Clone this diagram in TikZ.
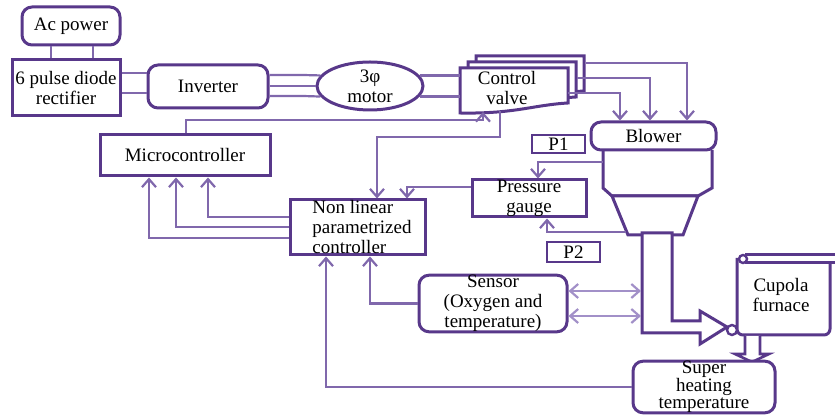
\documentclass[tikz,border=0pt]{standalone}
\usepackage{fontspec}
\setmainfont{Liberation Serif}
\usetikzlibrary{arrows.meta,shapes.geometric}
\definecolor{boxc}{RGB}{88,56,138}
\definecolor{linec}{RGB}{128,104,172}
\definecolor{lightc}{RGB}{162,144,200}
\begin{document}
\begin{tikzpicture}[x=0.5pt,y=-0.5pt,>={Straight Barb[length=4pt,width=7pt]},
	font=\fontsize{9.5}{10}\selectfont,
	box/.style={draw=boxc,line width=1.5pt,fill=white,align=center,inner sep=0pt},
	rbox/.style={box,rounded corners=5pt},
	conn/.style={draw=linec,line width=1.1pt}]
	\useasboundingbox (0,0) rectangle (835,415);
	\node[rbox,minimum width=49pt,minimum height=19pt] (ac) at (71,26) {Ac power};
	\node[box,minimum width=54pt,minimum height=28pt] (rect) at (66,88) {6 pulse diode\\rectifier};
	\node[rbox,minimum width=60pt,minimum height=21.5pt] (inv) at (208,86.5) {Inverter};
	\node[box,ellipse,minimum width=53pt,minimum height=24pt] (motor) at (370,86) {3φ\\motor};
	\foreach \d in {16,8,0}
		\draw[box] (460+\d,68-0.75*\d) -- ++(108,0) -- ++(0,35) .. controls ++(-35,2) and ++(55,1) .. ++(-108,10) -- cycle;
	\node[align=center] (valve) at (507,88) {Control\\valve};
	\coordinate (valvew) at (460,86);
	\coordinate (valvea) at (483,112);
	\coordinate (valveb) at (500,111);
	\coordinate (v3) at (586,63);
	\coordinate (v2) at (577,78);
	\coordinate (v1) at (568,93);
	% blower and furnace pipe
	\draw[box] (603,150) -- (603,188) -- (612,196) -- (698,196) -- (712,188) -- (712,150);
	\draw[box] (612,196) -- (698,196) -- (683,235) -- (628,235) -- cycle;
	\draw[box] (642,233) -- (642,333) -- (700,333) -- (700,344) -- (727,327) -- (700,311) -- (700,321) -- (672,321) -- (672,233) -- cycle;
	\node[rbox,minimum width=62.5pt,minimum height=14pt] (blower) at (653.5,136) {Blower};
	\coordinate (bodyl) at (603,162);
	\coordinate (funl) at (626,232);
	\coordinate (pipel) at (641,280);
	% cupola scroll
	\draw[box,rounded corners=3pt] (737,258) -- (737,335) -- (830,335) -- (830,263);
	\draw[box] (745,255) -- (835,255) (745,263) -- (835,263);
	\draw[box,line width=1.2pt] (743,259) circle[radius=4];
	\draw[box,line width=1.2pt] (732,330) circle[radius=5];
	\node[align=center] (cupola) at (781,295) {Cupola\\furnace};
	\draw[box,line width=1.3pt] (745,336) -- (745,354) -- (735,354) -- (752,362) -- (769,354) -- (760,354) -- (760,336);
	\node[rbox,minimum width=71pt,minimum height=25pt,font=\fontsize{9.5}{8.75}\selectfont] (sh) at (704,387) {Super\\heating\\temperature};
	\node[box,minimum width=85pt,minimum height=20.5pt] (mc) at (185,155.5) {Microcontroller};
	\node[box,minimum width=67.5pt,minimum height=27.5pt] (ctrl) at (357.5,227.5) {};
	\node[align=left,anchor=west,inner sep=0pt] (ctrltxt) at (312,227) {Non linear\\parametrized\\controller};
	\node[box,minimum width=57pt,minimum height=18.5pt] (pg) at (529,198.5) {Pressure\\gauge};
	\node[box,line width=1.2pt,minimum width=26.5pt,minimum height=9pt] (p1) at (558.5,144) {P1};
	\node[box,line width=1.2pt,minimum width=26.5pt,minimum height=10pt] (p2) at (573.5,252) {P2};
	\node[rbox,minimum width=74pt,minimum height=27.5pt] (sensor) at (493,303.5) {Sensor\\(Oxygen and\\temperature)};
	% connectors
	\draw[conn] (ac.south -| 51,0) -- (rect.north -| 51,0);
	\draw[conn] (ac.south -| 93,0) -- (rect.north -| 93,0);
	\draw[conn] (rect.east |- 0,73) -- (inv.west |- 0,73);
	\draw[conn] (rect.east |- 0,93) -- (inv.west |- 0,93);
	\draw[conn] (inv.east |- 0,75) -- (303,75) -- (motor.168);
	\draw[conn] (inv.east |- motor.west) -- (motor.west);
	\draw[conn] (inv.east |- 0,96) -- (303,96) -- (motor.192);
	\draw[conn] (motor.12) -- (motor.12 -| valvew);
	\draw[conn] (motor.-12) -- (motor.-12 -| valvew);
	\draw[conn,->] (v3) -| (blower.north -| 687,0);
	\draw[conn,->] (v2) -| (blower.north -| 650,0);
	\draw[conn,->] (v1) -| (blower.north -| 620,0);
	\draw[conn,->] (mc.north -| 186,0) -- (186,120) -| (valvea);
	\draw[conn,->] (valveb) -- (500,137) -| (ctrl.north -| 377,0);
	\draw[conn,->] (pg.west |- 0,187) -| (ctrl.north -| 407,0);
	\draw[conn,->] (bodyl) -| (pg.north -| 538,0);
	\draw[conn,->] (funl) -| (pg.south -| 547,0);
	\foreach \y/\x in {217/208,227/176,238/149}
		\draw[conn,->] (ctrl.west |- 0,\y) -| (mc.south -| \x,0);
	\draw[conn,->] (sensor.west) -| (ctrl.south -| 370,0);
	\draw[conn,->] (sh.west) -| (ctrl.south -| 326,0);
	\foreach \y in {291,316}
		\draw[conn,draw=lightc,<->] (sensor.east |- 0,\y) -- (pipel |- 0,\y);
\end{tikzpicture}
\end{document}
